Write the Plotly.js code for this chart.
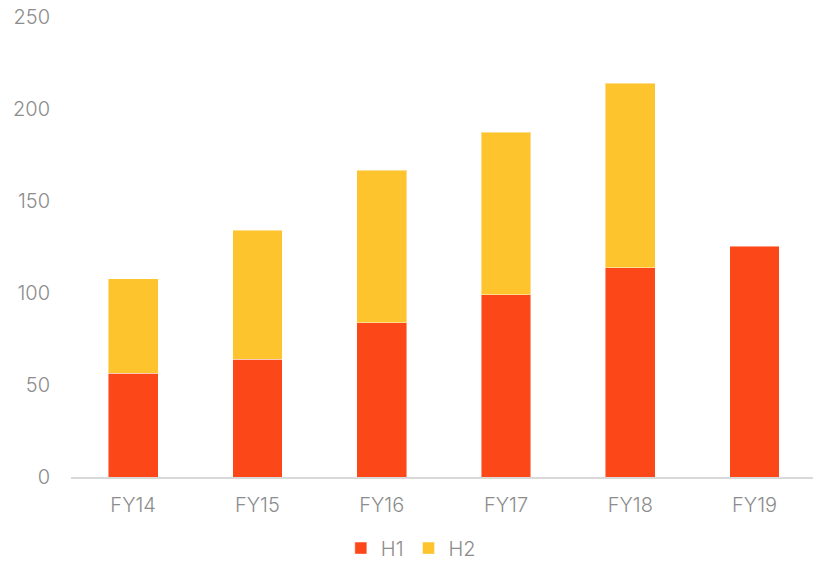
<!DOCTYPE html>
<html>
<head>
<meta charset="utf-8">
<script src="https://cdn.plot.ly/plotly-3.0.1.min.js"></script>
<style>html,body{margin:0;padding:0;background:#fff;}#chart{width:813px;height:561px;}</style>
</head>
<body>
<div id="chart"></div>
<script>
const categories = ["FY14", "FY15", "FY16", "FY17", "FY18", "FY19"];
const h1Values = [56.5, 63.9, 83.9, 99.0, 113.8, 125.4];
const h2Values = [51.3, 70.3, 82.9, 88.5, 100.1, null];
const yTicks = [0, 50, 100, 150, 200, 250];

const fontFam = "Inter, Lato, 'Open Sans', sans-serif";
const grey = "#8c8c8c";
const fnt = {family: fontFam, size: 20, color: grey, weight: 300};

const traces = [
  {type: "bar", name: "H1", x: categories, y: h1Values,
   marker: {color: "#FC4819", line: {color: "rgba(255,255,255,0.45)", width: 1}}},
  {type: "bar", name: "H2", x: categories, y: h2Values,
   marker: {color: "#FEC42D", line: {color: "rgba(255,255,255,0.45)", width: 1}}}
];

const layout = {
  width: 813, height: 561,
  barmode: "stack",
  bargap: 0.6,
  margin: {l: 71, r: 0, t: 16.5, b: 83.5},
  paper_bgcolor: "#fff", plot_bgcolor: "#fff",
  font: fnt,
  xaxis: {
    type: "category",
    range: [-0.5, 5.47],
    showgrid: false, zeroline: false,
    showline: true, linecolor: "#d9d9d9", linewidth: 2,
    ticks: "", ticklabelstandoff: 9,
    tickfont: fnt
  },
  yaxis: {
    range: [0, 250],
    tickvals: yTicks,
    showgrid: false, zeroline: false, showline: false,
    ticks: "", ticklabelstandoff: 20,
    tickfont: fnt
  },
  showlegend: true,
  legend: {
    orientation: "h", x: 0.458, xanchor: "center",
    yref: "container", y: 0.023, yanchor: "middle",
    font: fnt,
    itemwidth: 30, traceorder: "normal"
  }
};

Plotly.newPlot("chart", traces, layout, {displayModeBar: false, staticPlot: true});
</script>
</body>
</html>
